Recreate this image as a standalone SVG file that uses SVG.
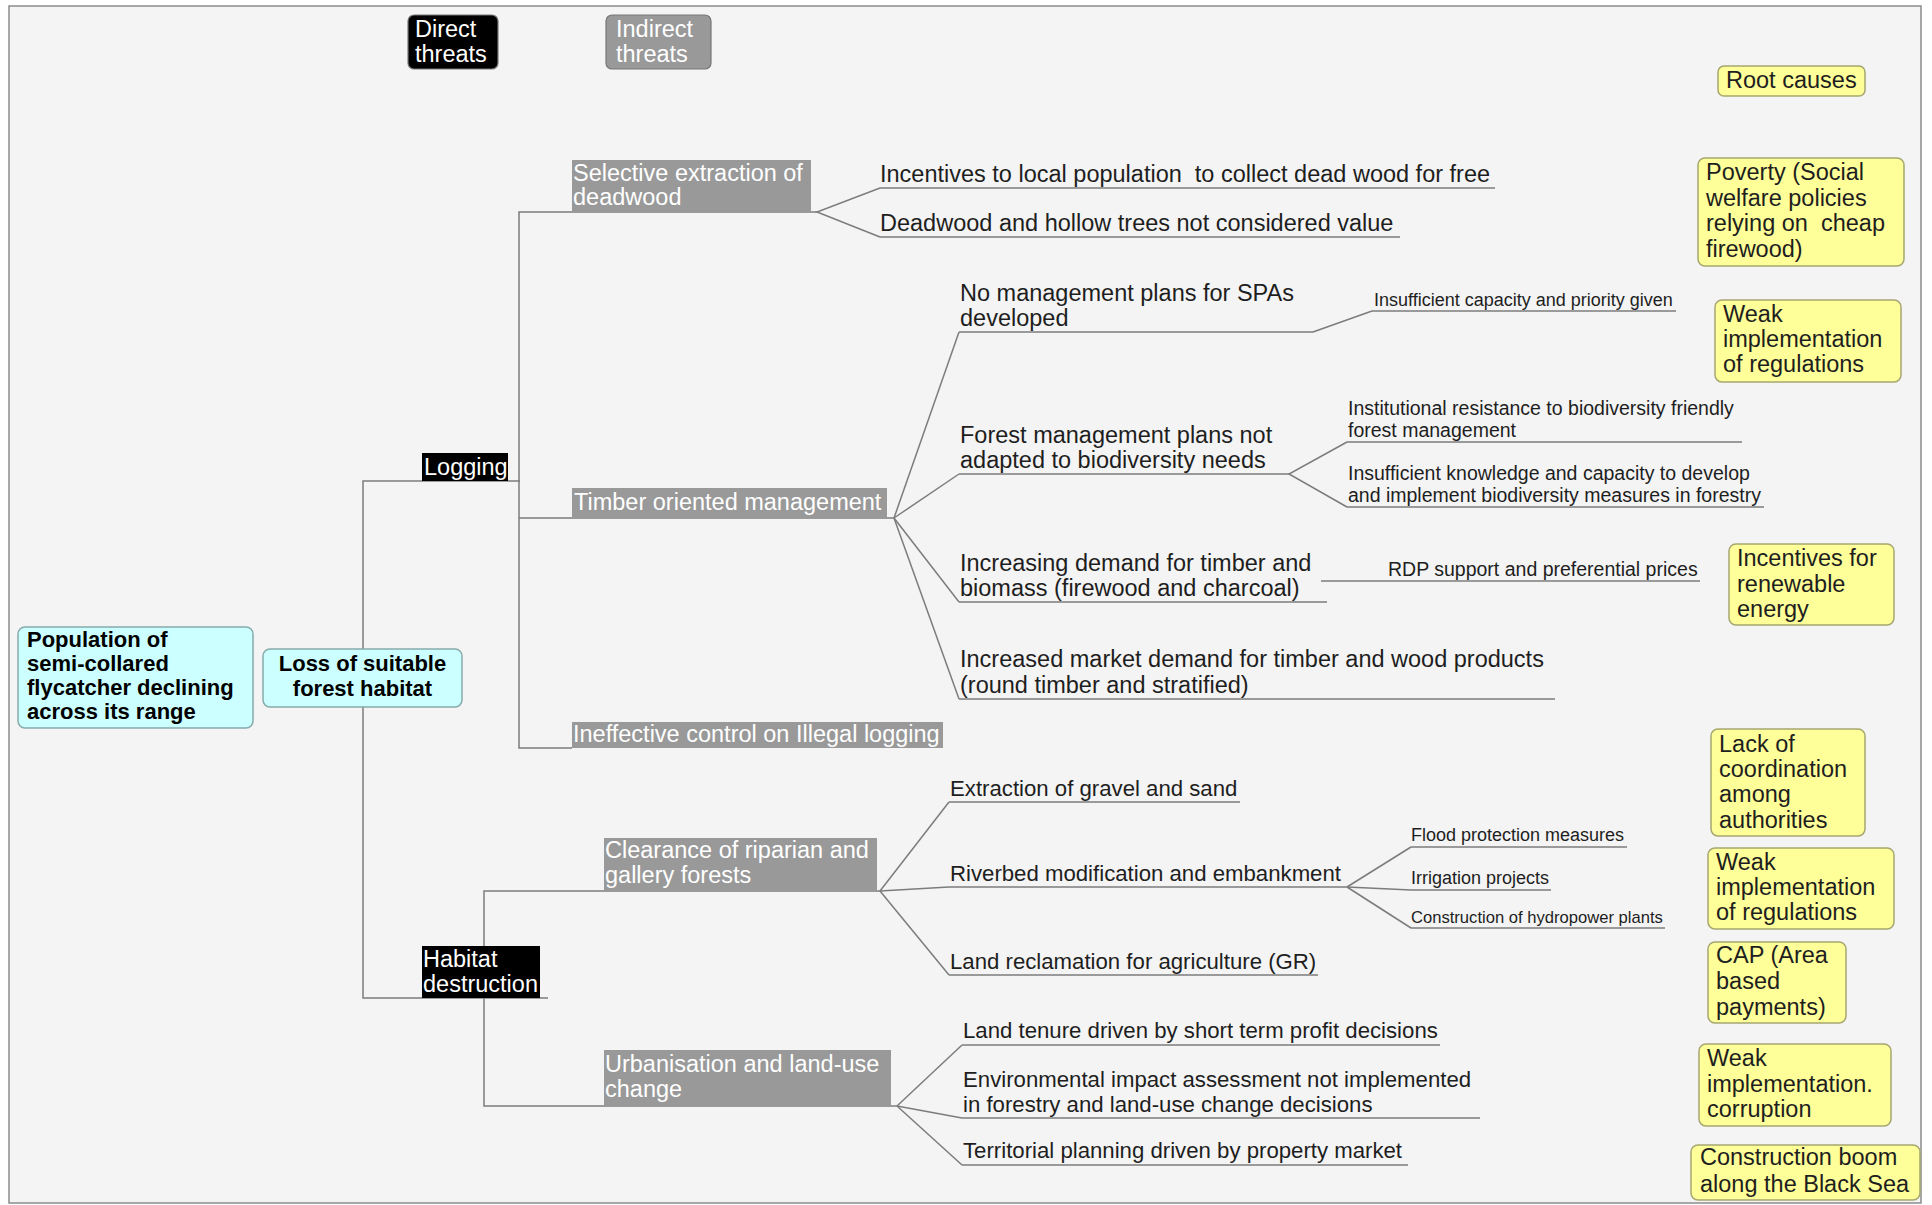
<svg xmlns="http://www.w3.org/2000/svg" width="1932" height="1205" viewBox="0 0 1932 1205">
<style>
text{font-family:"Liberation Sans",Arial,Helvetica,sans-serif;font-size:23.5px;fill:#1e1e1e}
.w{fill:#ffffff}
.bd{font-weight:bold;font-size:22px;fill:#000}
.m{font-size:22.2px}
.s{font-size:18px}
.s2{font-size:19.5px}
.s3{font-size:16.6px}
.ln{stroke:#7c7c7c;stroke-width:1.5;fill:none}
.yel{fill:#ffff99;stroke:#a6a670;stroke-width:1.5}
.cy{fill:#ccffff;stroke:#86abab;stroke-width:1.5}
.gr{fill:#999999}
.bk{fill:#000000}
.key{stroke:#777;stroke-width:1.2}
</style>
<rect x="0" y="0" width="1932" height="1205" fill="#ffffff"/>
<rect x="9" y="6" width="1912" height="1197" fill="#f4f4f4" stroke="#8c8c8c" stroke-width="1.5"/>

<g id="connectors">
  <polyline class="ln" points="520,481 363,481 363,998 548,998"/>
  <polyline class="ln" points="817,212 519,212 519,748 572,748"/>
  <line class="ln" x1="519" y1="518" x2="894" y2="518"/>
  <polyline class="ln" points="880,891 484,891 484,1106 897,1106"/>
  <polyline class="ln" points="880,188 817,212 880,237"/>
  <line class="ln" x1="894" y1="518" x2="959" y2="332"/>
  <line class="ln" x1="894" y1="518" x2="959" y2="474"/>
  <line class="ln" x1="894" y1="518" x2="959" y2="602"/>
  <line class="ln" x1="894" y1="518" x2="959" y2="699"/>
  <line class="ln" x1="1313" y1="332" x2="1372" y2="311"/>
  <polyline class="ln" points="1347,442 1289,474 1347,507"/>
  <line class="ln" x1="880" y1="891" x2="949" y2="802"/>
  <line class="ln" x1="880" y1="891" x2="949" y2="887"/>
  <line class="ln" x1="880" y1="891" x2="949" y2="975"/>
  <line class="ln" x1="1347" y1="887" x2="1411" y2="847"/>
  <line class="ln" x1="1347" y1="887" x2="1411" y2="890"/>
  <line class="ln" x1="1347" y1="887" x2="1411" y2="928"/>
  <line class="ln" x1="897" y1="1106" x2="962" y2="1045"/>
  <line class="ln" x1="897" y1="1106" x2="962" y2="1118"/>
  <line class="ln" x1="897" y1="1106" x2="962" y2="1165"/>
</g>

<g id="legend-direct">
  <rect class="bk key" x="408" y="15" width="90" height="54" rx="6"/>
  <text class="w" x="415" y="37">Direct</text>
  <text class="w" x="415" y="62">threats</text>
</g>
<g id="legend-indirect">
  <rect class="gr key" x="606" y="15" width="105" height="54" rx="6"/>
  <text class="w" x="616" y="37">Indirect</text>
  <text class="w" x="616" y="62">threats</text>
</g>
<g id="legend-root">
  <rect class="yel" x="1718" y="66" width="147" height="30" rx="6"/>
  <text x="1726" y="88">Root causes</text>
</g>

<g id="n-population">
  <rect class="cy" x="18" y="627" width="235" height="101" rx="7"/>
  <text class="bd" x="27" y="647">Population of</text>
  <text class="bd" x="27" y="671">semi-collared</text>
  <text class="bd" x="27" y="695">flycatcher declining</text>
  <text class="bd" x="27" y="719">across its range</text>
</g>
<g id="n-loss">
  <rect class="cy" x="263" y="649" width="199" height="58" rx="7"/>
  <text class="bd" x="362.5" y="671" text-anchor="middle">Loss of suitable</text>
  <text class="bd" x="362.5" y="696" text-anchor="middle">forest habitat</text>
</g>

<g id="n-logging">
  <rect class="bk" x="422" y="453" width="86" height="28"/>
  <text class="w" x="424" y="475">Logging</text>
</g>
<g id="n-habitat">
  <rect class="bk" x="422" y="946" width="118" height="52"/>
  <text class="w" x="423" y="967">Habitat</text>
  <text class="w" x="423" y="992">destruction</text>
</g>

<g id="n-selective">
  <rect class="gr" x="572" y="160" width="239" height="52"/>
  <text class="w" x="573" y="181">Selective extraction of</text>
  <text class="w" x="573" y="205">deadwood</text>
</g>
<g id="n-timber">
  <rect class="gr" x="572" y="488" width="315" height="30"/>
  <text class="w" x="574" y="510">Timber oriented management</text>
</g>
<g id="n-illegal">
  <rect class="gr" x="572" y="722" width="371" height="26"/>
  <text class="w" x="573" y="742">Ineffective control on Illegal logging</text>
</g>
<g id="n-clearance">
  <rect class="gr" x="604" y="838" width="273" height="53"/>
  <text class="w" x="605" y="858">Clearance of riparian and</text>
  <text class="w" x="605" y="883">gallery forests</text>
</g>
<g id="n-urban">
  <rect class="gr" x="604" y="1050" width="287" height="56"/>
  <text class="w" x="605" y="1072">Urbanisation and land-use</text>
  <text class="w" x="605" y="1097">change</text>
</g>

<g id="n-incentives-local">
  <line class="ln" x1="880" y1="188" x2="1495" y2="188"/>
  <text x="880" y="182" xml:space="preserve">Incentives to local population  to collect dead wood for free</text>
</g>
<g id="n-deadwood-value">
  <line class="ln" x1="880" y1="237" x2="1400" y2="237"/>
  <text x="880" y="231">Deadwood and hollow trees not considered value</text>
</g>
<g id="n-no-plans">
  <line class="ln" x1="959" y1="332" x2="1313" y2="332"/>
  <text x="960" y="301">No management plans for SPAs</text>
  <text x="960" y="326">developed</text>
</g>
<g id="n-insufficient-capacity">
  <line class="ln" x1="1372" y1="311" x2="1676" y2="311"/>
  <text class="s" x="1374" y="306">Insufficient capacity and priority given</text>
</g>
<g id="n-forest-plans">
  <line class="ln" x1="959" y1="474" x2="1289" y2="474"/>
  <text x="960" y="443">Forest management plans not</text>
  <text x="960" y="468">adapted to biodiversity needs</text>
</g>
<g id="n-institutional">
  <line class="ln" x1="1347" y1="442" x2="1742" y2="442"/>
  <text class="s2" x="1348" y="415">Institutional resistance to biodiversity friendly</text>
  <text class="s2" x="1348" y="437">forest management</text>
</g>
<g id="n-insufficient-knowledge">
  <line class="ln" x1="1347" y1="507" x2="1764" y2="507"/>
  <text class="s2" x="1348" y="480">Insufficient knowledge and capacity to develop</text>
  <text class="s2" x="1348" y="502">and implement biodiversity measures in forestry</text>
</g>
<g id="n-increasing-demand">
  <line class="ln" x1="959" y1="602" x2="1327" y2="602"/>
  <text x="960" y="571">Increasing demand for timber and</text>
  <text x="960" y="596">biomass (firewood and charcoal)</text>
</g>
<g id="n-rdp">
  <line class="ln" x1="1321" y1="581" x2="1700" y2="581"/>
  <text class="s2" x="1388" y="576">RDP support and preferential prices</text>
</g>
<g id="n-market-demand">
  <line class="ln" x1="959" y1="699" x2="1555" y2="699"/>
  <text x="960" y="667">Increased market demand for timber and wood products</text>
  <text x="960" y="693">(round timber and stratified)</text>
</g>
<g id="n-gravel">
  <line class="ln" x1="949" y1="802" x2="1240" y2="802"/>
  <text class="m" x="950" y="796">Extraction of gravel and sand</text>
</g>
<g id="n-riverbed">
  <line class="ln" x1="949" y1="887" x2="1347" y2="887"/>
  <text class="m" x="950" y="881">Riverbed modification and embankment</text>
</g>
<g id="n-flood">
  <line class="ln" x1="1411" y1="847" x2="1627" y2="847"/>
  <text class="s" x="1411" y="841">Flood protection measures</text>
</g>
<g id="n-irrigation">
  <line class="ln" x1="1411" y1="890" x2="1551" y2="890"/>
  <text class="s" x="1411" y="884">Irrigation projects</text>
</g>
<g id="n-hydropower">
  <line class="ln" x1="1411" y1="928" x2="1665" y2="928"/>
  <text class="s3" x="1411" y="923">Construction of hydropower plants</text>
</g>
<g id="n-reclamation">
  <line class="ln" x1="949" y1="975" x2="1318" y2="975"/>
  <text class="m" x="950" y="969">Land reclamation for agriculture (GR)</text>
</g>
<g id="n-tenure">
  <line class="ln" x1="962" y1="1045" x2="1440" y2="1045"/>
  <text class="m" x="963" y="1038">Land tenure driven by short term profit decisions</text>
</g>
<g id="n-eia">
  <line class="ln" x1="962" y1="1118" x2="1480" y2="1118"/>
  <text class="m" x="963" y="1087">Environmental impact assessment not implemented</text>
  <text class="m" x="963" y="1112">in forestry and land-use change decisions</text>
</g>
<g id="n-territorial">
  <line class="ln" x1="962" y1="1165" x2="1408" y2="1165"/>
  <text class="m" x="963" y="1158">Territorial planning driven by property market</text>
</g>

<g id="r-poverty">
  <rect class="yel" x="1698" y="158" width="206" height="108" rx="7"/>
  <text x="1706" y="180">Poverty (Social</text>
  <text x="1706" y="206">welfare policies</text>
  <text x="1706" y="231" xml:space="preserve">relying on  cheap</text>
  <text x="1706" y="257">firewood)</text>
</g>
<g id="r-weak1">
  <rect class="yel" x="1715" y="300" width="186" height="82" rx="7"/>
  <text x="1723" y="322">Weak</text>
  <text x="1723" y="347">implementation</text>
  <text x="1723" y="372">of regulations</text>
</g>
<g id="r-renewable">
  <rect class="yel" x="1729" y="544" width="165" height="81" rx="7"/>
  <text x="1737" y="566">Incentives for</text>
  <text x="1737" y="592">renewable</text>
  <text x="1737" y="617">energy</text>
</g>
<g id="r-coordination">
  <rect class="yel" x="1711" y="729" width="154" height="107" rx="7"/>
  <text x="1719" y="752">Lack of</text>
  <text x="1719" y="777">coordination</text>
  <text x="1719" y="802">among</text>
  <text x="1719" y="828">authorities</text>
</g>
<g id="r-weak2">
  <rect class="yel" x="1708" y="848" width="186" height="81" rx="7"/>
  <text x="1716" y="870">Weak</text>
  <text x="1716" y="895">implementation</text>
  <text x="1716" y="920">of regulations</text>
</g>
<g id="r-cap">
  <rect class="yel" x="1708" y="942" width="138" height="81" rx="7"/>
  <text x="1716" y="963">CAP (Area</text>
  <text x="1716" y="989">based</text>
  <text x="1716" y="1015">payments)</text>
</g>
<g id="r-corruption">
  <rect class="yel" x="1699" y="1044" width="192" height="82" rx="7"/>
  <text x="1707" y="1066">Weak</text>
  <text x="1707" y="1092">implementation.</text>
  <text x="1707" y="1117">corruption</text>
</g>
<g id="r-construction">
  <rect class="yel" x="1691" y="1145" width="229" height="55" rx="7"/>
  <text x="1700" y="1165">Construction boom</text>
  <text x="1700" y="1192">along the Black Sea</text>
</g>
</svg>
